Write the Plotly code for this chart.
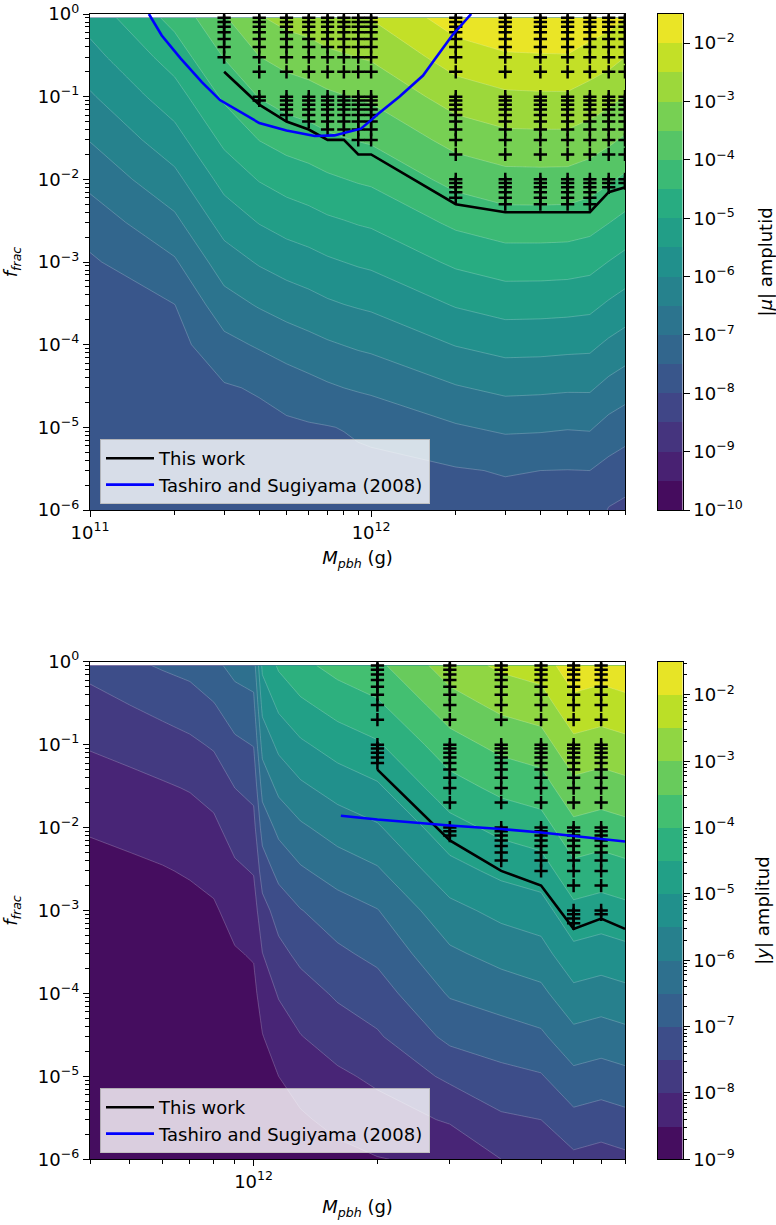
import math
import plotly.graph_objects as go

# ---------------- data ----------------
# top panel: log10 |mu| on a (f_frac x M_pbh) grid
mass_top = [1e11, 2e11, 3e11, 4e11, 5e11, 6e11, 7e11, 8e11, 9e11, 1e12,
            2e12, 3e12, 4e12, 5e12, 6e12, 7e12, 8e12]
f_grid = [1e-6, 3e-6, 1e-5, 3e-5, 1e-4, 3e-4, 1e-3, 3e-3, 1e-2, 3e-2, 0.1, 0.3, 0.9]
log_mu = [
    [-7.92, -7.92, -7.92, -7.92, -7.92, -7.90, -7.87, -7.84, -7.82, -7.81, -7.70, -7.66, -7.67, -7.68, -7.67, -8.03, -8.12],
    [-7.92, -7.92, -7.90, -7.83, -7.78, -7.73, -7.70, -7.68, -7.65, -7.64, -7.54, -7.47, -7.50, -7.51, -7.50, -7.66, -7.75],
    [-7.92, -7.92, -7.71, -7.65, -7.59, -7.55, -7.52, -7.48, -7.42, -7.38, -7.05, -6.91, -6.93, -6.97, -6.95, -7.17, -7.30],
    [-7.92, -7.86, -7.55, -7.45, -7.29, -7.17, -7.07, -7.00, -6.95, -6.91, -6.54, -6.39, -6.41, -6.44, -6.44, -6.65, -6.78],
    [-7.92, -7.68, -7.15, -6.94, -6.77, -6.66, -6.56, -6.49, -6.43, -6.39, -5.98, -5.83, -5.84, -5.87, -5.89, -6.09, -6.23],
    [-7.75, -7.51, -6.71, -6.46, -6.30, -6.19, -6.08, -6.01, -5.96, -5.92, -5.47, -5.31, -5.32, -5.34, -5.38, -5.57, -5.71],
    [-7.57, -7.06, -6.24, -5.95, -5.78, -5.68, -5.57, -5.50, -5.44, -5.40, -4.91, -4.75, -4.75, -4.77, -4.83, -5.01, -5.16],
    [-7.28, -6.62, -5.80, -5.48, -5.30, -5.20, -5.09, -5.03, -4.97, -4.93, -4.40, -4.23, -4.23, -4.24, -4.32, -4.49, -4.64],
    [-6.86, -6.14, -5.33, -4.97, -4.79, -4.69, -4.58, -4.51, -4.45, -4.41, -3.84, -3.67, -3.66, -3.67, -3.77, -3.93, -4.09],
    [-6.48, -5.70, -4.89, -4.49, -4.31, -4.22, -4.10, -4.03, -3.98, -3.94, -3.33, -3.15, -3.14, -3.14, -3.26, -3.41, -3.57],
    [-6.06, -5.22, -4.42, -3.98, -3.79, -3.70, -3.59, -3.52, -3.46, -3.42, -2.77, -2.59, -2.57, -2.57, -2.71, -2.85, -3.02],
    [-5.68, -4.78, -3.98, -3.51, -3.32, -3.23, -3.11, -3.05, -2.99, -2.95, -2.26, -2.07, -2.05, -2.04, -2.20, -2.33, -2.50],
    [-5.30, -4.34, -3.55, -3.04, -2.85, -2.77, -2.65, -2.58, -2.52, -2.48, -1.75, -1.56, -1.54, -1.53, -1.70, -1.82, -2.00],
]

# bottom panel: log10 |y|
mass_bot = [4e11, 5e11, 6e11, 7e11, 8e11, 9e11, 1e12, 1.05e12, 1.15e12, 1.3e12, 1.6e12,
            2e12, 3e12, 4e12, 5e12, 6e12, 7e12, 8e12]
log_y = [
    [-8.90, -8.90, -8.90, -8.90, -8.89, -8.89, -8.88, -8.85, -8.80, -8.74, -8.63, -8.52, -8.40, -8.00, -7.92, -7.61, -7.70, -7.61],
    [-8.90, -8.89, -8.89, -8.89, -8.89, -8.87, -8.86, -8.79, -8.68, -8.56, -8.38, -8.22, -7.95, -7.58, -7.50, -7.15, -7.24, -7.15],
    [-8.89, -8.89, -8.88, -8.88, -8.87, -8.84, -8.82, -8.68, -8.50, -8.32, -8.09, -7.90, -7.40, -7.15, -7.04, -6.63, -6.72, -6.63],
    [-8.88, -8.88, -8.87, -8.86, -8.85, -8.79, -8.76, -8.52, -8.25, -8.02, -7.76, -7.56, -6.88, -6.72, -6.59, -6.15, -6.24, -6.15],
    [-8.86, -8.85, -8.84, -8.82, -8.79, -8.69, -8.63, -8.28, -7.96, -7.71, -7.43, -7.22, -6.45, -6.27, -6.12, -5.63, -5.72, -5.63],
    [-8.82, -8.81, -8.78, -8.76, -8.71, -8.54, -8.46, -8.01, -7.64, -7.38, -7.09, -6.88, -6.09, -5.83, -5.69, -5.15, -5.24, -5.15],
    [-8.75, -8.72, -8.68, -8.63, -8.56, -8.33, -8.23, -7.68, -7.30, -7.02, -6.74, -6.52, -5.65, -5.36, -5.22, -4.63, -4.72, -4.63],
    [-8.64, -8.59, -8.53, -8.46, -8.36, -8.09, -7.97, -7.27, -6.85, -6.57, -6.28, -6.06, -5.18, -4.88, -4.74, -4.15, -4.24, -4.15],
    [-8.46, -8.38, -8.31, -8.23, -8.10, -7.79, -7.66, -6.80, -6.37, -6.08, -5.78, -5.56, -4.68, -4.36, -4.22, -3.63, -3.72, -3.63],
    [-8.23, -8.15, -8.06, -7.97, -7.83, -7.50, -7.37, -6.34, -5.89, -5.60, -5.30, -5.08, -4.20, -3.88, -3.74, -3.15, -3.24, -3.15],
    [-7.96, -7.84, -7.72, -7.60, -7.44, -7.10, -6.98, -5.83, -5.38, -5.08, -4.78, -4.56, -3.70, -3.36, -3.22, -2.63, -2.72, -2.63],
    [-7.67, -7.50, -7.35, -7.22, -7.03, -6.72, -6.62, -5.36, -4.90, -4.60, -4.30, -4.08, -3.22, -2.88, -2.74, -2.15, -2.24, -2.15],
    [-7.35, -7.10, -6.95, -6.85, -6.62, -6.35, -6.25, -4.89, -4.43, -4.13, -3.83, -3.61, -2.75, -2.41, -2.27, -1.68, -1.77, -1.68],
]

# "This work" limits
work_mass_top = [3e11, 4e11, 5e11, 6e11, 7e11, 8e11, 9e11, 1e12, 2e12, 3e12, 4e12, 5e12, 6e12, 7e12, 8e12]
work_f_top = [0.2, 0.08, 0.05, 0.04, 0.03, 0.03, 0.02, 0.02, 0.005, 0.004, 0.004, 0.004, 0.004, 0.007, 0.008]
work_mass_bot = [2e12, 3e12, 4e12, 5e12, 6e12, 7e12, 8e12]
work_f_bot = [0.05, 0.007, 0.003, 0.002, 0.0006, 0.0008, 0.0006]

# Tashiro and Sugiyama (2008)
ts_mass_top = [1.62e11, 1.8e11, 2.1e11, 2.5e11, 2.9e11, 3.5e11, 4.0e11, 5.0e11, 6.3e11, 7.4e11,
               8.5e11, 9.2e11, 1.0e12, 1.06e12, 1.26e12, 1.53e12, 1.68e12, 1.95e12, 2.27e12]
ts_f_top = [1.0, 0.55, 0.29, 0.15, 0.091, 0.063, 0.048, 0.039, 0.0335, 0.034,
            0.038, 0.041, 0.052, 0.062, 0.1, 0.18, 0.28, 0.56, 1.0]
ts_mass_bot = [1.63e12, 2e12, 3e12, 4e12, 5e12, 6e12, 7e12, 8e12]
ts_f_bot = [0.0139, 0.0125, 0.0106, 0.0096, 0.0087, 0.0079, 0.0073, 0.0068]

# grid of simulated f values (markers) and masses carrying markers
marker_f = [0.9, 0.8, 0.7, 0.6, 0.5, 0.4, 0.3, 0.2, 0.1,
            0.09, 0.08, 0.07, 0.06, 0.05, 0.04, 0.03, 0.02, 0.01,
            0.009, 0.008, 0.007, 0.006, 0.005, 0.004, 0.003, 0.002, 0.001,
            0.0009, 0.0008, 0.0007, 0.0006, 0.0005, 0.0004, 0.0003, 0.0002, 0.0001]
marker_mass_top = work_mass_top
marker_mass_bot = [2e12, 3e12, 4e12, 5e12, 6e12, 7e12]

# colour bar levels (log10)
cb_top_min, cb_top_max = -10.0, -1.5
cb_bot_min, cb_bot_max = -9.0, -1.5
level_step = 0.5

# ---------------- helpers ----------------
VIRIDIS11 = ["#440154", "#482576", "#414487", "#35608d", "#2a788e", "#21908c",
             "#22a884", "#43bf71", "#7ad151", "#bbdf27", "#fde725"]


def _rgb(h):
    return tuple(int(h[i:i + 2], 16) for i in (1, 3, 5))


def viridis(t):
    t = min(max(t, 0.0), 1.0) * 10
    i = min(int(t), 9)
    fr = t - i
    a, b = _rgb(VIRIDIS11[i]), _rgb(VIRIDIS11[i + 1])
    c = [round(a[k] + (b[k] - a[k]) * fr) for k in range(3)]
    return "rgb(%d,%d,%d)" % tuple(c)


def band_colors(lo, hi):
    n = int(round((hi - lo) / level_step))
    return [viridis((k + 0.5) / n) for k in range(n)]


def sup(n):
    s = str(n).replace("-", "\u2212")
    return "10<sup>%s</sup>" % s


def markers(masses, wm, wf):
    xs, ys = [], []
    for m in masses:
        thr = wf[wm.index(m)]
        for f in marker_f:
            if f > thr * 1.0001:
                xs.append(m)
                ys.append(f)
    return xs, ys


FONT = "DejaVu Sans"
W, H = 776, 1225


def px_x(a, b):
    return [a / W, b / W]


def px_y(top, bottom):
    return [(H - bottom) / H, (H - top) / H]


fig = go.Figure()


def add_panel(ix, masses, z, lo, hi, cb_title, wm, wf, tm, tf, mk_mass, legend_name,
              y_top, y_bot, xrange_, xticks, xminor, cb_minor):
    cols = band_colors(lo, hi)
    n = len(cols)
    cscale = [[k / (n - 1), cols[k]] for k in range(n)]
    xa = "x" if ix == 1 else "x%d" % ix
    ya = "y" if ix == 1 else "y%d" % ix
    xc = "x%d" % (ix + 1)
    yc = "y%d" % (ix + 1)
    fig.add_trace(go.Contour(
        x=masses, y=f_grid, z=z, xaxis=xa, yaxis=ya,
        autocontour=False,
        contours=dict(start=lo + level_step, end=hi - level_step, size=level_step,
                      coloring="fill", showlines=True),
        colorscale=cscale, showscale=False,
        line=dict(color="rgba(255,255,255,0.35)", width=0.6, smoothing=0),
        hoverinfo="skip", showlegend=False))
    mx, my = markers(mk_mass, wm, wf)
    fig.add_trace(go.Scatter(
        x=mx, y=my, mode="markers", xaxis=xa, yaxis=ya, showlegend=False,
        marker=dict(symbol="cross-thin", size=9.5, color="black",
                    line=dict(width=2.5, color="black")), hoverinfo="skip"))
    fig.add_trace(go.Scatter(
        x=wm, y=wf, mode="lines", name="This work", xaxis=xa, yaxis=ya,
        line=dict(color="black", width=2.6), legend=legend_name))
    fig.add_trace(go.Scatter(
        x=tm, y=tf, mode="lines", name="Tashiro and Sugiyama (2008)", xaxis=xa, yaxis=ya,
        line=dict(color="#0000ff", width=2.6), legend=legend_name))
    # colour bar drawn as a heatmap of the band colours
    centers = [lo + level_step * (k + 0.5) for k in range(n)]
    fig.add_trace(go.Heatmap(
        x=[0], y=centers, z=[[k] for k in range(n)], zmin=0, zmax=n - 1,
        colorscale=cscale, showscale=False, xaxis=xc, yaxis=yc, hoverinfo="skip"))

    axis_common = dict(showline=True, linecolor="black", linewidth=1.3, mirror=True,
                       ticks="outside", tickcolor="black", tickwidth=1.3, ticklen=6,
                       showgrid=False, zeroline=False, automargin=False,
                       tickfont=dict(family=FONT, size=18, color="black"))
    yminor = [k * 10.0 ** e for e in range(-6, 0) for k in range(2, 10)]
    fig.update_layout(**{
        ("xaxis" if ix == 1 else "xaxis%d" % ix): dict(
            axis_common, type="log", domain=px_x(90, 625), range=xrange_, anchor=ya,
            tickmode="array", tickvals=xticks, ticktext=[sup(int(round(math.log10(v)))) for v in xticks],
            minor=dict(tickmode="array", tickvals=xminor, ticks="outside", ticklen=3.5,
                       tickwidth=1.1, tickcolor="black", showgrid=False),
            title=dict(text="<i>M</i><sub><i>pbh</i></sub> (g)", standoff=9,
                       font=dict(family=FONT, size=18, color="black"))),
        ("yaxis" if ix == 1 else "yaxis%d" % ix): dict(
            axis_common, type="log", domain=px_y(y_top, y_bot), range=[-6, 0], anchor=xa,
            tickmode="array", tickvals=[10.0 ** e for e in range(-6, 1)],
            ticktext=[sup(e) for e in range(-6, 1)],
            minor=dict(tickmode="array", tickvals=yminor, ticks="outside", ticklen=3.5,
                       tickwidth=1.1, tickcolor="black", showgrid=False),
            title=dict(text="<i>f</i><sub><i>frac</i></sub>", standoff=17,
                       font=dict(family=FONT, size=18, color="black"))),
        "xaxis%d" % (ix + 1): dict(
            domain=px_x(658, 682.5), range=[-0.5, 0.5], anchor=yc, showticklabels=False,
            showline=True, linecolor="black", linewidth=1.3, mirror=True, ticks="",
            showgrid=False, zeroline=False, automargin=False),
        "yaxis%d" % (ix + 1): dict(
            axis_common, domain=px_y(y_top, y_bot), range=[lo, hi], anchor=xc, side="right",
            mirror=True, tickmode="array",
            tickvals=list(range(int(lo), int(math.floor(hi)) + 1)),
            ticktext=[sup(e) for e in range(int(lo), int(math.floor(hi)) + 1)],
            minor=(dict(tickmode="array", tickvals=cb_minor, ticks="outside", ticklen=3.5,
                        tickwidth=1.1, tickcolor="black", showgrid=False) if cb_minor else None),
            title=dict(text=cb_title, standoff=22,
                       font=dict(family=FONT, size=18, color="black"))),
    })


top_xminor = [k * 1e11 for k in range(2, 10)] + [k * 1e12 for k in range(2, 9)]
bot_xminor = [k * 1e11 for k in range(4, 10)] + [k * 1e12 for k in range(2, 9)]
bot_cb_minor = [math.log10(k) + e for e in range(-9, -1) for k in range(2, 10)
                if math.log10(k) + e < cb_bot_max]

add_panel(1, mass_top, log_mu, cb_top_min, cb_top_max, "|<i>\u03bc</i>| amplutid",
          work_mass_top, work_f_top, ts_mass_top, ts_f_top, marker_mass_top, "legend",
          14, 510, [11, math.log10(8e12)], [1e11, 1e12], top_xminor, None)
add_panel(3, mass_bot, log_y, cb_bot_min, cb_bot_max, "|<i>y</i>| amplitud",
          work_mass_bot, work_f_bot, ts_mass_bot, ts_f_bot, marker_mass_bot, "legend2",
          661.7, 1159.3, [math.log10(4e11), math.log10(8e12)], [1e12], bot_xminor, bot_cb_minor)

legend_common = dict(xanchor="left", yanchor="bottom", bgcolor="rgba(255,255,255,0.8)",
                     bordercolor="rgba(190,190,190,0.9)", borderwidth=1, itemwidth=48,
                     font=dict(family=FONT, size=18, color="black"), tracegroupgap=0)
fig.update_layout(
    width=W, height=H, margin=dict(l=0, r=0, t=0, b=0),
    paper_bgcolor="white", plot_bgcolor="white",
    font=dict(family=FONT, size=18, color="black"),
    legend=dict(legend_common, x=100 / W, y=(H - 504) / H),
    legend2=dict(legend_common, x=100 / W, y=(H - 1153) / H),
)

# remove the default 8px page margin so the figure sits at the window origin
fig.write_html("out.html", config={"displayModeBar": False},
               post_script="document.body.style.margin='0px';")
